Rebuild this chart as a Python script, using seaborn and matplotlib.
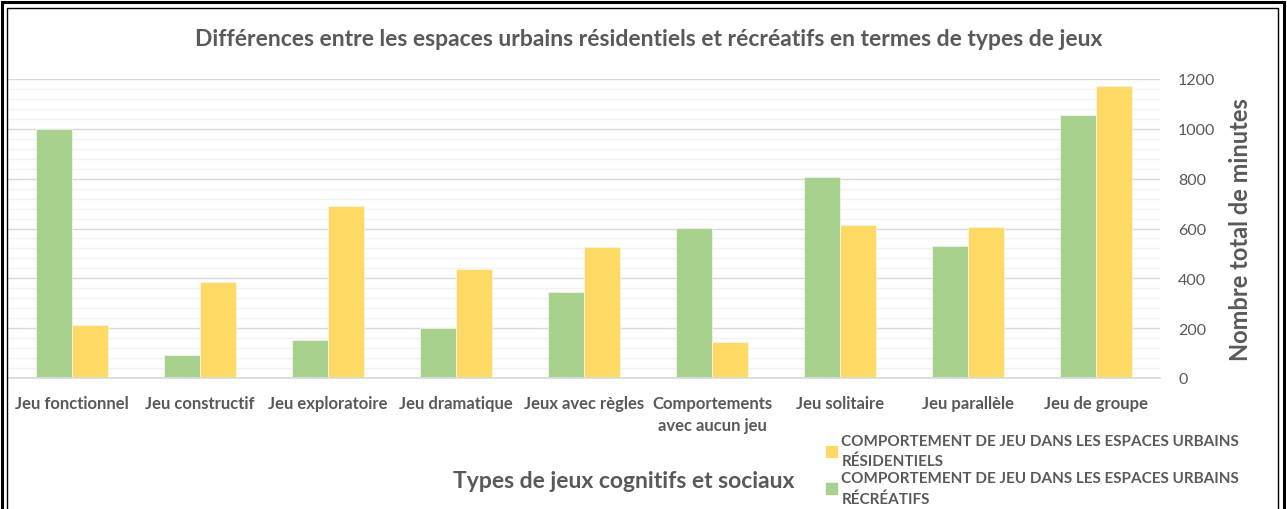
import matplotlib
matplotlib.use("Agg")
import matplotlib.pyplot as plt
from matplotlib.patches import Patch, Rectangle
from matplotlib.ticker import MultipleLocator
import pandas as pd
import seaborn as sns

categories = ["Jeu fonctionnel", "Jeu constructif", "Jeu exploratoire", "Jeu dramatique",
              "Jeux avec règles", "Comportements\navec aucun jeu", "Jeu solitaire",
              "Jeu parallèle", "Jeu de groupe"]
recreatifs = [1000, 94, 152, 200, 344, 602, 807, 528, 1055]
residentiels = [211, 385, 689, 436, 527, 143, 614, 606, 1172]

lab_rec = "COMPORTEMENT DE JEU DANS LES ESPACES URBAINS\nRÉCRÉATIFS"
lab_res = "COMPORTEMENT DE JEU DANS LES ESPACES URBAINS\nRÉSIDENTIELS"
GREEN, YELLOW, GREY = "#A9D18E", "#FFD966", "#595959"

df = pd.DataFrame({
    "type": categories * 2,
    "minutes": recreatifs + residentiels,
    "serie": [lab_rec] * len(categories) + [lab_res] * len(categories),
})

sns.set_theme(style="white")
plt.rcParams["font.family"] = ["Lato", "DejaVu Sans"]

fig = plt.figure(figsize=(12.87, 5.10), dpi=100)
ax = fig.add_axes([8 / 1287, (510 - 379) / 510, 1152 / 1287, 299 / 510])

sns.barplot(data=df, x="type", y="minutes", hue="serie", order=categories,
            hue_order=[lab_rec, lab_res], palette=[GREEN, YELLOW], saturation=1,
            width=0.57, gap=0, ax=ax, legend=False, edgecolor="#F4F9EE", linewidth=0.5)

ax.set_ylim(0, 1200)
ax.set_xlim(-0.5, len(categories) - 0.5)
ax.yaxis.set_major_locator(MultipleLocator(200))
ax.yaxis.set_minor_locator(MultipleLocator(40))
ax.grid(axis="y", which="major", color="#D9D9D9", linewidth=1)
ax.grid(axis="y", which="minor", color="#F2F2F2", linewidth=1)
ax.set_axisbelow(True)
for s in ["top", "left", "right"]:
    ax.spines[s].set_visible(False)
ax.spines["bottom"].set_color("#D9D9D9")

ax.yaxis.tick_right()
ax.yaxis.set_label_position("right")
ax.tick_params(axis="y", which="both", length=0, pad=13, labelsize=11.5, labelcolor=GREY)
ax.tick_params(axis="x", length=0, pad=12, labelsize=12, labelcolor=GREY)
for t in ax.get_xticklabels():
    t.set_fontweight("bold")
    t.set_linespacing(1.45)
ax.set_xlabel("")
ax.set_ylabel("Nombre total de minutes", fontsize=17, fontweight="bold", color=GREY, labelpad=10)

fig.text(649 / 1287, 1 - 40 / 510,
         "Différences entre les espaces urbains résidentiels et récréatifs en termes de types de jeux",
         ha="center", va="center", fontsize=16.5, fontweight="bold", color=GREY)
fig.text(624 / 1287, 1 - 482 / 510, "Types de jeux cognitifs et sociaux",
         ha="center", va="center", fontsize=16.5, fontweight="bold", color=GREY)

handles = [Patch(color=YELLOW), Patch(color=GREEN)]
leg = fig.legend(handles, [lab_res, lab_rec], loc="upper left",
                 bbox_to_anchor=(826 / 1287, 1 - 435 / 510), frameon=False,
                 fontsize=11, handlelength=0.7, handleheight=0.7, handletextpad=0.3,
                 labelspacing=0.2, borderaxespad=0, borderpad=0)
for t in leg.get_texts():
    t.set_color(GREY)
    t.set_fontweight("bold")
    t.set_linespacing(1.5)

# double frame around the chart
fig.patches.append(Rectangle((2 / 1287, -0.05), 1282 / 1287, 1.05 - 3 / 510,
                             transform=fig.transFigure, fill=False, edgecolor="black", linewidth=2.2))
fig.patches.append(Rectangle((7 / 1287, -0.05), 1271 / 1287, 1.05 - 9 / 510,
                             transform=fig.transFigure, fill=False, edgecolor="black", linewidth=1))

fig.savefig("out.png", dpi=100)
